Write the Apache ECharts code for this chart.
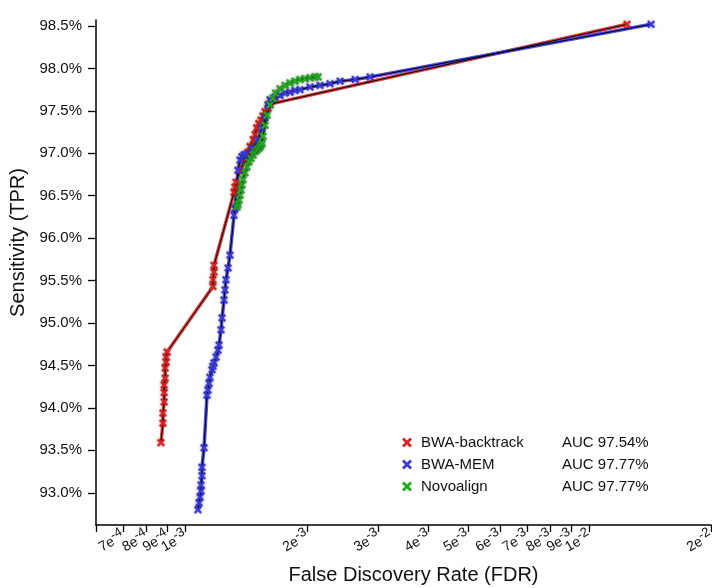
<!DOCTYPE html>
<html>
<head>
<meta charset="utf-8">
<script src="https://cdn.jsdelivr.net/npm/echarts@6/dist/echarts.min.js"></script>
<style>html,body{margin:0;padding:0;background:#fff}#c{width:712px;height:588px}</style>
</head>
<body>
<div id="c"></div>
<script>
// ---------- DATA ----------
const seriesNames = ['BWA-backtrack', 'BWA-MEM', 'Novoalign'];
const aucLabels = ['AUC 97.54%', 'AUC 97.77%', 'AUC 97.77%'];

const btFDR = [8.69e-4, 8.79e-4, 8.79e-4, 8.85e-4, 8.85e-4, 8.85e-4, 8.90e-4, 8.90e-4, 8.95e-4, 8.95e-4, 9.00e-4,
  1.169e-3, 1.169e-3, 1.176e-3, 1.176e-3,
  1.318e-3, 1.325e-3, 1.333e-3, 1.364e-3, 1.403e-3, 1.427e-3, 1.444e-3, 1.470e-3, 1.486e-3, 1.500e-3, 1.518e-3, 1.537e-3, 1.555e-3, 1.573e-3, 1.600e-3, 1.618e-3,
  1.239e-2];
const btTPR = [93.59, 93.82, 93.94, 94.07, 94.18, 94.27, 94.35, 94.47, 94.54, 94.60, 94.66,
  95.43, 95.51, 95.60, 95.68,
  96.54, 96.60, 96.66, 96.80, 96.92, 97.01, 97.08, 97.16, 97.22, 97.30, 97.35, 97.39, 97.44, 97.49, 97.53, 97.58,
  98.52];

const memFDR = [1.073e-3, 1.080e-3, 1.086e-3, 1.092e-3, 1.092e-3, 1.098e-3, 1.098e-3, 1.111e-3, 1.130e-3, 1.136e-3, 1.143e-3, 1.149e-3, 1.163e-3, 1.169e-3, 1.176e-3, 1.190e-3, 1.203e-3, 1.210e-3, 1.224e-3, 1.231e-3, 1.245e-3, 1.252e-3, 1.259e-3, 1.274e-3, 1.288e-3, 1.318e-3, 1.325e-3, 1.348e-3, 1.364e-3, 1.379e-3, 1.395e-3, 1.411e-3, 1.460e-3, 1.511e-3, 1.546e-3, 1.573e-3, 1.600e-3, 1.618e-3, 1.665e-3, 1.713e-3, 1.763e-3, 1.814e-3, 1.866e-3, 1.920e-3, 2.033e-3, 2.152e-3, 2.278e-3, 2.413e-3, 2.630e-3, 2.863e-3,
  1.421e-2];
const memTPR = [92.80, 92.88, 92.95, 93.02, 93.09, 93.20, 93.30, 93.53, 94.15, 94.21, 94.29, 94.36, 94.45, 94.49, 94.53, 94.60, 94.68, 94.74, 94.92, 95.06, 95.27, 95.39, 95.51, 95.65, 95.80, 96.27, 96.35, 96.80, 96.92, 96.96, 96.98, 96.99, 97.06, 97.16, 97.30, 97.42, 97.57, 97.63, 97.66, 97.68, 97.71, 97.72, 97.74, 97.75, 97.78, 97.80, 97.82, 97.85, 97.87, 97.90,
  98.52];

const novoFDR = [1.341e-3, 1.348e-3, 1.356e-3, 1.364e-3, 1.372e-3, 1.379e-3, 1.387e-3, 1.403e-3, 1.419e-3, 1.436e-3, 1.452e-3, 1.469e-3, 1.486e-3, 1.502e-3, 1.520e-3, 1.529e-3, 1.537e-3, 1.546e-3, 1.555e-3, 1.573e-3, 1.591e-3, 1.618e-3, 1.645e-3, 1.671e-3, 1.713e-3, 1.763e-3, 1.814e-3, 1.866e-3, 1.920e-3, 1.976e-3, 2.033e-3, 2.091e-3, 2.128e-3];
const novoTPR = [96.37, 96.40, 96.45, 96.51, 96.57, 96.63, 96.69, 96.77, 96.84, 96.90, 96.94, 96.98, 97.02, 97.04, 97.06, 97.08, 97.10, 97.12, 97.20, 97.33, 97.45, 97.57, 97.65, 97.71, 97.76, 97.80, 97.83, 97.85, 97.87, 97.88, 97.89, 97.90, 97.90];

// tick at the axis start (6e-4) is unlabeled
const xTickValues = [6e-4, 7e-4, 8e-4, 9e-4, 1e-3, 2e-3, 3e-3, 4e-3, 5e-3, 6e-3, 7e-3, 8e-3, 9e-3, 1e-2, 2e-2];
const xTickLabels = ['', '7e-4', '8e-4', '9e-4', '1e-3', '2e-3', '3e-3', '4e-3', '5e-3', '6e-3', '7e-3', '8e-3', '9e-3', '1e-2', '2e-2'];
const yTickValues = [93.0, 93.5, 94.0, 94.5, 95.0, 95.5, 96.0, 96.5, 97.0, 97.5, 98.0, 98.5];

const colors = ['#dd2222', '#3a3ae0', '#22aa22'];
const lineColors = ['#e03c3c', '#4c4ce6', '#3cb83c'];

// ---------- CHART ----------
const FONT = '"Liberation Sans", Arial, Helvetica, sans-serif';
const X_MIN = 6e-4, X_MAX = 2e-2;
const xPath = 'path://M0,2 L2,0 L5,3 L8,0 L10,2 L7,5 L10,8 L8,10 L5,7 L2,10 L0,8 L3,5 Z';

function zip(a, b) { return a.map((v, i) => [v, b[i]]); }
const sets = [zip(btFDR, btTPR), zip(memFDR, memTPR), zip(novoFDR, novoTPR)];

const series = [];
sets.forEach((d, i) => {
  series.push({
    name: 'line' + i, type: 'line', xAxisIndex: 0, yAxisIndex: 0, data: d,
    symbol: 'none', lineStyle: { color: lineColors[i], width: 3.5 },
    z: 1, animation: false, silent: true
  });
});
sets.forEach((d, i) => {
  series.push({
    name: 'fit' + i, type: 'line', xAxisIndex: 0, yAxisIndex: 0, data: d,
    symbol: 'none', lineStyle: { color: '#000', width: 1 }, z: 2, animation: false, silent: true
  });
});
sets.forEach((d, i) => {
  series.push({
    name: seriesNames[i], type: 'scatter', xAxisIndex: 0, yAxisIndex: 0, data: d,
    symbol: xPath, symbolSize: 8,
    itemStyle: { color: colors[i], opacity: 1, shadowBlur: 3, shadowColor: 'rgba(0,0,0,0.45)' },
    z: 3, animation: false
  });
});

function xLabel(v) {
  let best = 0, bd = Infinity;
  xTickValues.forEach((t, i) => { const d = Math.abs(Math.log10(t) - v); if (d < bd) { bd = d; best = i; } });
  if (bd > 0.01 || !xTickLabels[best]) return '';
  const parts = xTickLabels[best].split('e');
  return '{m|' + parts[0] + 'e}{s|' + parts[1] + '}';
}

const chart = echarts.init(document.getElementById('c'), null, { renderer: 'canvas' });
chart.setOption({
  animation: false,
  backgroundColor: '#fff',
  textStyle: { fontFamily: FONT },
  grid: { left: 96, right: 1, top: 20, bottom: 63, containLabel: false, outerBoundsMode: 'none' },
  xAxis: [
    {
      type: 'log', logBase: 10, min: X_MIN, max: X_MAX, position: 'bottom',
      axisLine: { show: true, lineStyle: { color: '#000', width: 1.5 } },
      axisTick: { show: false }, axisLabel: { show: false }, splitLine: { show: false }, minorTick: { show: false },
      name: 'False Discovery Rate (FDR)', nameLocation: 'middle', nameGap: 40,
      nameTextStyle: { fontSize: 20, color: '#111', fontFamily: FONT, padding: [0, 0, 0, 20] }
    },
    {
      type: 'value', min: Math.log10(X_MIN), max: Math.log10(X_MAX), position: 'bottom',
      axisLine: { show: false },
      axisTick: { show: true, length: 7, lineStyle: { color: '#000', width: 1.3 }, customValues: xTickValues.map(Math.log10) },
      axisLabel: {
        show: true, rotate: 30, margin: 9, hideOverlap: false, showMinLabel: true, showMaxLabel: true,
        customValues: xTickValues.map(Math.log10), formatter: xLabel,
        rich: {
          m: { fontSize: 14, color: '#111', fontFamily: FONT, lineHeight: 16, verticalAlign: 'bottom' },
          s: { fontSize: 13, color: '#111', fontFamily: FONT, lineHeight: 14, verticalAlign: 'bottom', padding: [0, 0, 5, 0] }
        }
      },
      splitLine: { show: false }
    }
  ],
  yAxis: {
    type: 'value', min: 92.62, max: 98.571,
    axisLine: { show: true, lineStyle: { color: '#000', width: 1.5 } },
    axisTick: { show: true, length: 8, lineStyle: { color: '#000', width: 1.3 }, customValues: yTickValues },
    axisLabel: { customValues: yTickValues, margin: 14, fontSize: 15, color: '#111', fontFamily: FONT,
      formatter: v => v.toFixed(1) + '%' },
    splitLine: { show: false },
    name: 'Sensitivity (TPR)', nameLocation: 'middle', nameGap: 64,
    nameTextStyle: { fontSize: 20, color: '#111', fontFamily: FONT, padding: [0, 0, 0, 60] }
  },
  legend: {
    data: seriesNames.map((n, i) => ({ name: n, icon: xPath, itemStyle: { color: colors[i] } })),
    orient: 'vertical', left: 397, top: 430, itemWidth: 10, itemHeight: 10, itemGap: 7,
    selectedMode: false,
    formatter: name => '{n|' + name + '}{a|' + aucLabels[seriesNames.indexOf(name)] + '}',
    textStyle: {
      fontFamily: FONT, fontSize: 15, color: '#111',
      rich: {
        n: { fontSize: 15, color: '#111', fontFamily: FONT, width: 141, padding: [0, 0, 0, 4] },
        a: { fontSize: 15, color: '#111', fontFamily: FONT }
      }
    }
  },
  series: series
});
</script>
</body>
</html>
